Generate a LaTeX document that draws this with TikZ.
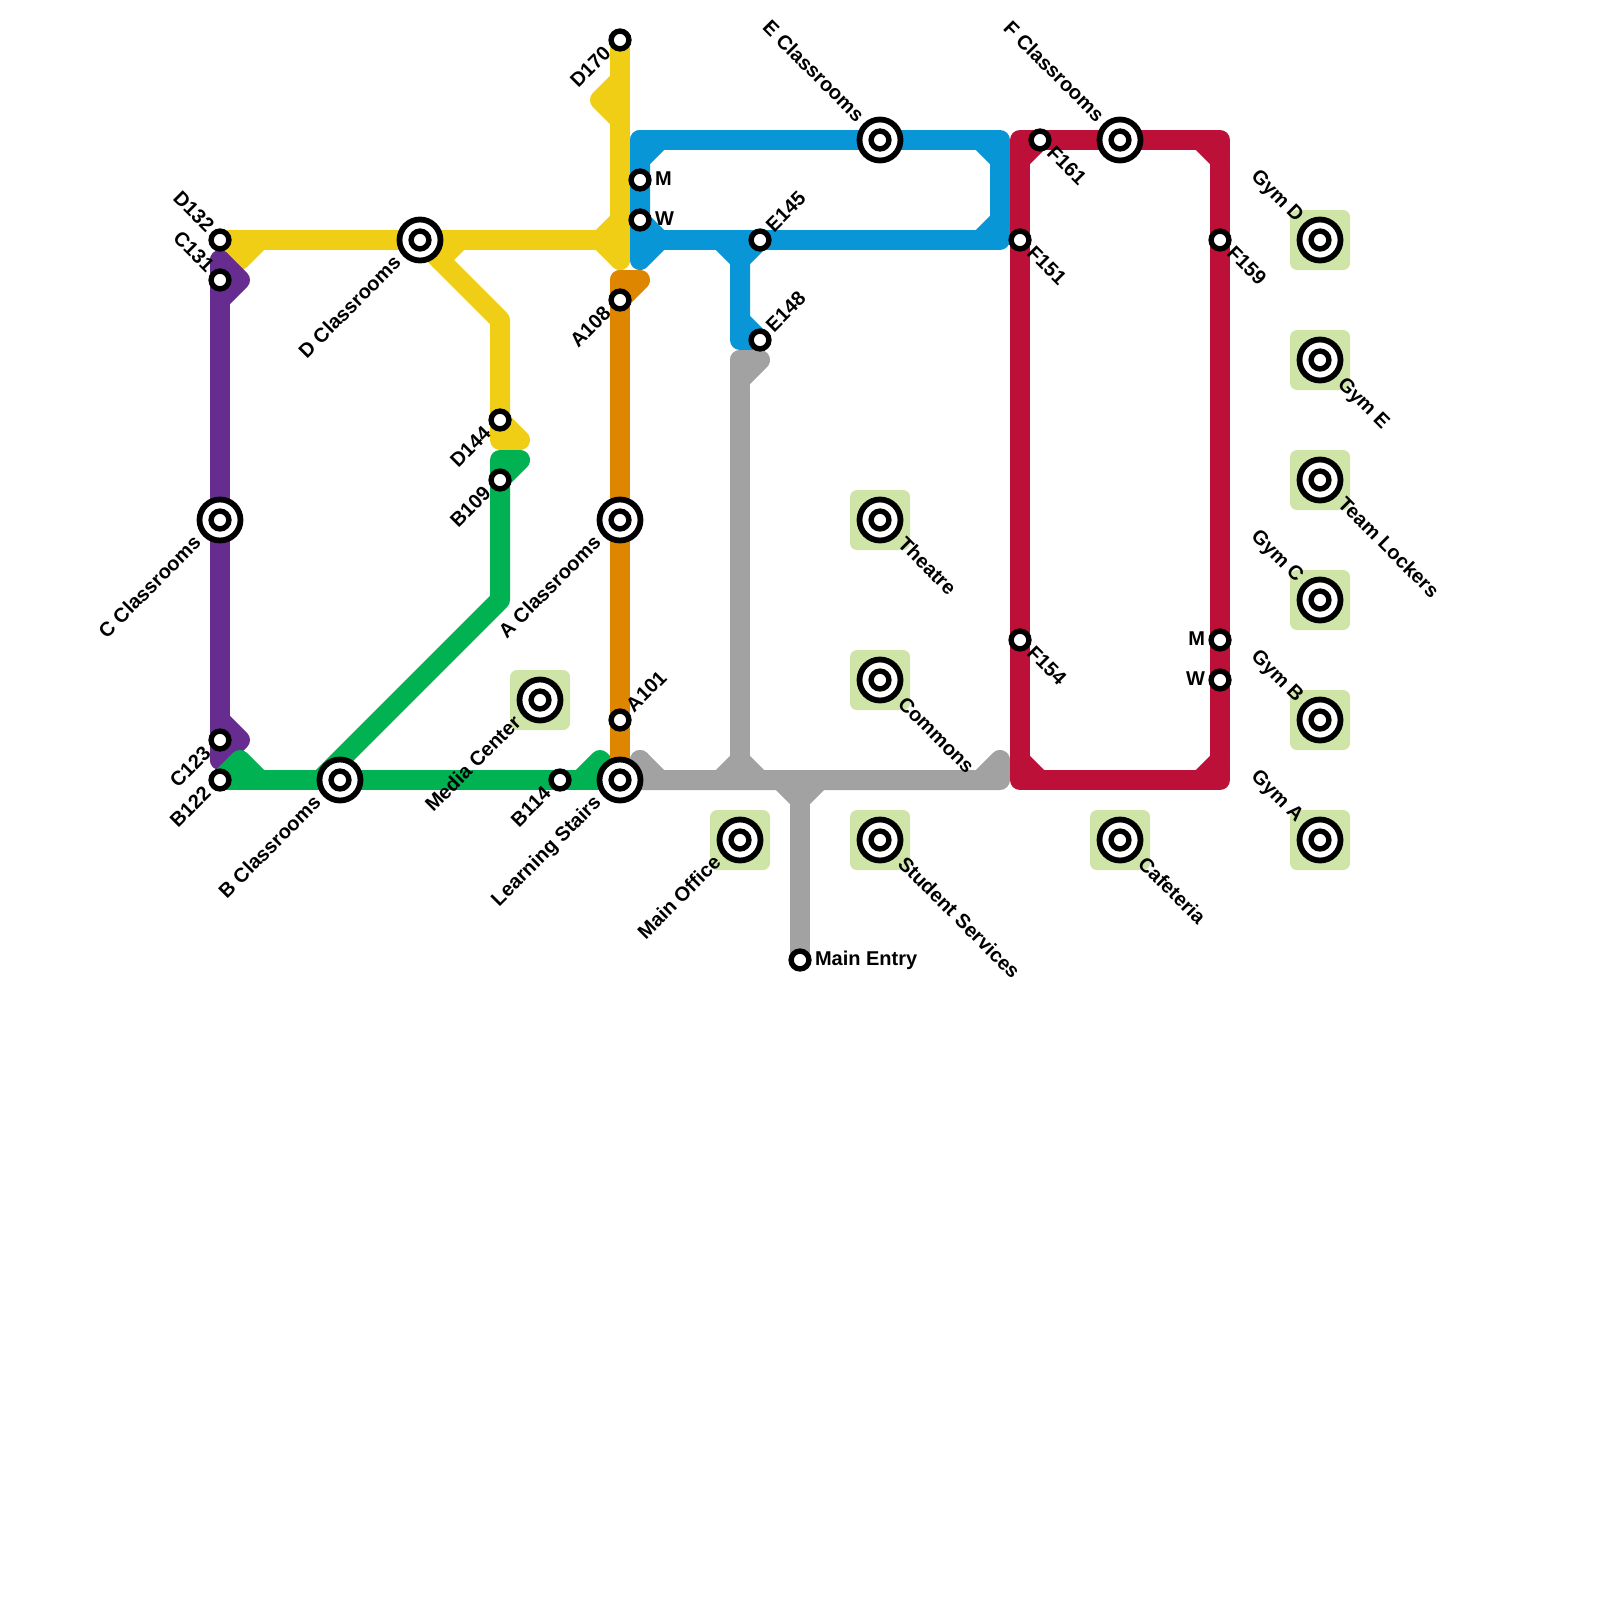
\documentclass[tikz,border=0pt]{standalone}
\usepackage{fontspec}
\setmainfont{Liberation Sans}
\pgfdeclarelayer{lines}
\pgfsetlayers{lines,main}
\definecolor{myel}{HTML}{F0CE15}
\definecolor{mpur}{HTML}{662C90}
\definecolor{mgrn}{HTML}{00B251}
\definecolor{mora}{HTML}{DF8600}
\definecolor{mblu}{HTML}{0896D7}
\definecolor{mgry}{HTML}{A2A2A2}
\definecolor{mred}{HTML}{BD1038}
\definecolor{msqr}{HTML}{CFE4A7}
\tikzset{
  x=1pt,y=-1pt,
  metro/.style={line width=20pt,line cap=round,line join=round,draw=#1},
  stn/.style={circle,draw=black,fill=white,line width=5.4pt,inner sep=0pt,outer sep=0pt,minimum size=17.8pt},
  bigring/.style={circle,draw=black,fill=white,line width=5.8pt,inner sep=0pt,outer sep=0pt,minimum size=41pt},
  sqr/.style={rectangle,fill=msqr,rounded corners=7pt,inner sep=0pt,outer sep=0pt,minimum size=60pt},
  lbl/.style={inner sep=0pt,outer sep=0pt,text=black,font=\fontsize{20}{20}\selectfont\bfseries,text height=14.3pt,text depth=0pt},
  ll/.style={lbl,xshift=-13pt,yshift=-10pt,rotate=45,anchor=east},
  llb/.style={lbl,xshift=-23pt,yshift=-19pt,rotate=45,anchor=east},
  ul/.style={lbl,xshift=-9pt,yshift=12pt,rotate=-45,anchor=east},
  ulb/.style={lbl,xshift=-19pt,yshift=22pt,rotate=-45,anchor=east},
  ur/.style={lbl,xshift=9pt,yshift=12pt,rotate=45,anchor=west},
  lr/.style={lbl,xshift=11pt,yshift=-9pt,rotate=-45,anchor=west},
  lrb/.style={lbl,xshift=22pt,yshift=-20pt,rotate=-45,anchor=west},
  rt/.style={lbl,xshift=15pt,yshift=2pt,anchor=west},
  lf/.style={lbl,xshift=-15pt,yshift=2pt,anchor=east},
}
\begin{document}
\begin{tikzpicture}
\useasboundingbox (0,0) rectangle (1600,1600);
% backing squares
\foreach \n/\p in {qMedia/{540,700},qOffice/{740,840},qStudent/{880,840},qCommons/{880,680},qTheatre/{880,520},qCafe/{1120,840},qGymA/{1320,840},qGymB/{1320,720},qGymC/{1320,600},qTeam/{1320,480},qGymE/{1320,360},qGymD/{1320,240}}
  {\node[sqr] (\n) at (\p) {};}
% large stations
\foreach \n/\p in {Dc/{420,240},Cc/{220,520},Bc/{340,780},Ls/{620,780},Ac/{620,520},Ec/{880,140},Fc/{1120,140},Media/{540,700},Office/{740,840},Student/{880,840},Commons/{880,680},Theatre/{880,520},Cafe/{1120,840},GymA/{1320,840},GymB/{1320,720},GymC/{1320,600},Team/{1320,480},GymE/{1320,360},GymD/{1320,240}}
  {\node[bigring] (\n) at (\p) {}; \node[stn] (\n i) at (\p) {};}
% small stations
\foreach \n/\p in {D170/{620,40},Mw/{640,180},Ww/{640,220},D132/{220,240},C131/{220,280},D144/{500,420},B109/{500,480},A108/{620,300},A101/{620,720},C123/{220,740},B122/{220,780},B114/{560,780},E145/{760,240},E148/{760,340},F151/{1020,240},F161/{1040,140},F159/{1220,240},F154/{1020,640},Me/{1220,640},We/{1220,680},Entry/{800,960}}
  {\node[stn] (\n) at (\p) {};}
% way points
\foreach \n/\p in {y2/{620,260},y3/{620,80},y4/{600,100},y5/{620,120},y6/{620,240},y7/{620,220},y8/{600,240},y9/{260,240},y10/{240,260},y11/{460,240},y12/{440,260},y13/{500,320},y14/{500,440},y15/{520,440},
 p1/{220,260},p2/{220,760},p3/{240,280},p4/{220,300},p5/{220,720},p6/{240,740},
 g1/{240,760},g2/{260,780},g3/{580,780},g4/{600,760},g5/{320,780},g6/{500,600},g7/{500,460},g8/{520,460},
 o1/{620,280},o2/{640,280},
 b1/{640,140},b2/{1000,140},b3/{1000,240},b4/{640,240},b5/{640,260},b6/{660,240},b7/{640,160},b8/{660,140},b9/{980,140},b10/{1000,160},b11/{1000,220},b12/{980,240},b13/{720,240},b14/{740,260},b15/{740,240},b16/{740,340},b17/{740,320},
 a1/{740,360},a2/{740,780},a3/{760,360},a4/{740,380},a5/{1000,780},a6/{1000,760},a7/{980,780},a8/{640,760},a9/{640,780},a10/{660,780},a11/{720,780},a12/{740,760},a13/{760,780},a14/{780,780},a15/{800,800},a16/{820,780},a17/{800,780},
 r1/{1020,140},r2/{1220,140},r3/{1220,780},r4/{1020,780},r5/{1020,160},r6/{1200,140},r7/{1220,160},r8/{1020,760},r9/{1040,780},r10/{1200,780},r11/{1220,760}}
  {\coordinate (\n) at (\p);}
\begin{pgfonlayer}{lines}
% yellow
\draw[metro=myel] (D170.center) -- (y2);
\draw[metro=myel] (y3) -- (y4) -- (y5);
\draw[metro=myel] (D132.center) -- (y6);
\draw[metro=myel] (y7) -- (y8) -- (y2);
\draw[metro=myel] (y9) -- (y10) -- (D132.center);
\draw[metro=myel] (y11) -- (y12);
\draw[metro=myel] (Dc.center) -- (y13) -- (y14) -- (y15) -- (D144.center);
% purple
\draw[metro=mpur] (p1) -- (p2);
\draw[metro=mpur] (p1) -- (p3) -- (p4);
\draw[metro=mpur] (p5) -- (p6) -- (p2);
% green
\draw[metro=mgrn] (B122.center) -- (Ls.center);
\draw[metro=mgrn] (B122.center) -- (g1) -- (g2);
\draw[metro=mgrn] (g3) -- (g4) -- (Ls.center);
\draw[metro=mgrn] (g5) -- (g6) -- (g7) -- (g8) -- (B109.center);
% orange
\draw[metro=mora] (o1) -- (Ls.center);
\draw[metro=mora] (o1) -- (o2) -- (A108.center);
% blue
\draw[metro=mblu] (b1) -- (b2) -- (b3) -- (b4);
\draw[metro=mblu] (b1) -- (b5) -- (b6);
\draw[metro=mblu] (b7) -- (b8);
\draw[metro=mblu] (Ww.center) -- (b6);
\draw[metro=mblu] (b9) -- (b10);
\draw[metro=mblu] (b11) -- (b12);
\draw[metro=mblu] (b13) -- (b14) -- (E145.center);
\draw[metro=mblu] (b15) -- (b16) -- (E148.center) -- (b17);
% grey
\draw[metro=mgry] (a1) -- (a2);
\draw[metro=mgry] (a1) -- (a3) -- (a4);
\draw[metro=mgry] (Ls.center) -- (a5) -- (a6) -- (a7);
\draw[metro=mgry] (a8) -- (a9);
\draw[metro=mgry] (a8) -- (a10);
\draw[metro=mgry] (a11) -- (a12) -- (a13);
\draw[metro=mgry] (a14) -- (a15) -- (a16);
\draw[metro=mgry] (a17) -- (Entry.center);
% red
\draw[metro=mred] (r1) -- (r2) -- (r3) -- (r4) -- cycle;
\draw[metro=mred] (r5) -- (F161.center);
\draw[metro=mred] (r6) -- (r7);
\draw[metro=mred] (r8) -- (r9);
\draw[metro=mred] (r10) -- (r11);
\end{pgfonlayer}
% labels
\node[ul] (tD132) at (D132.center) {D132};
\node[ul] (tC131) at (C131.center) {C131};
\node[ll] (tC123) at (C123.center) {C123};
\node[ll] (tB122) at (B122.center) {B122};
\node[ll] (tD170) at (D170.center) {D170};
\node[ll] (tD144) at (D144.center) {D144};
\node[ll] (tB109) at (B109.center) {B109};
\node[ll] (tA108) at (A108.center) {A108};
\node[ll] (tB114) at (B114.center) {B114};
\node[llb] (tDc) at (Dc.center) {D Classrooms};
\node[llb] (tCc) at (Cc.center) {C Classrooms};
\node[llb] (tBc) at (Bc.center) {B Classrooms};
\node[llb] (tAc) at (Ac.center) {A Classrooms};
\node[llb] (tLs) at (Ls.center) {Learning Stairs};
\node[llb] (tMedia) at (Media.center) {Media Center};
\node[llb] (tOffice) at (Office.center) {Main Office};
\node[ur] (tA101) at (A101.center) {A101};
\node[ur] (tE145) at (E145.center) {E145};
\node[ur] (tE148) at (E148.center) {E148};
\node[lr] (tF161) at (F161.center) {F161};
\node[lr] (tF151) at (F151.center) {F151};
\node[lr] (tF159) at (F159.center) {F159};
\node[lr] (tF154) at (F154.center) {F154};
\node[lrb] (tTheatre) at (Theatre.center) {Theatre};
\node[lrb] (tCommons) at (Commons.center) {Commons};
\node[lrb] (tStudent) at (Student.center) {Student Services};
\node[lrb] (tCafe) at (Cafe.center) {Cafeteria};
\node[lrb] (tGymE) at (GymE.center) {Gym E};
\node[lrb] (tTeam) at (Team.center) {Team Lockers};
\node[ulb] (tEc) at (Ec.center) {E Classrooms};
\node[ulb] (tFc) at (Fc.center) {F Classrooms};
\node[ulb] (tGymD) at (GymD.center) {Gym D};
\node[ulb] (tGymC) at (GymC.center) {Gym C};
\node[ulb] (tGymB) at (GymB.center) {Gym B};
\node[ulb] (tGymA) at (GymA.center) {Gym A};
\node[rt] (tMw) at (Mw.center) {M};
\node[rt] (tWw) at (Ww.center) {W};
\node[rt] (tEntry) at (Entry.center) {Main Entry};
\node[lf] (tMe) at (Me.center) {M};
\node[lf] (tWe) at (We.center) {W};
\end{tikzpicture}
\end{document}
